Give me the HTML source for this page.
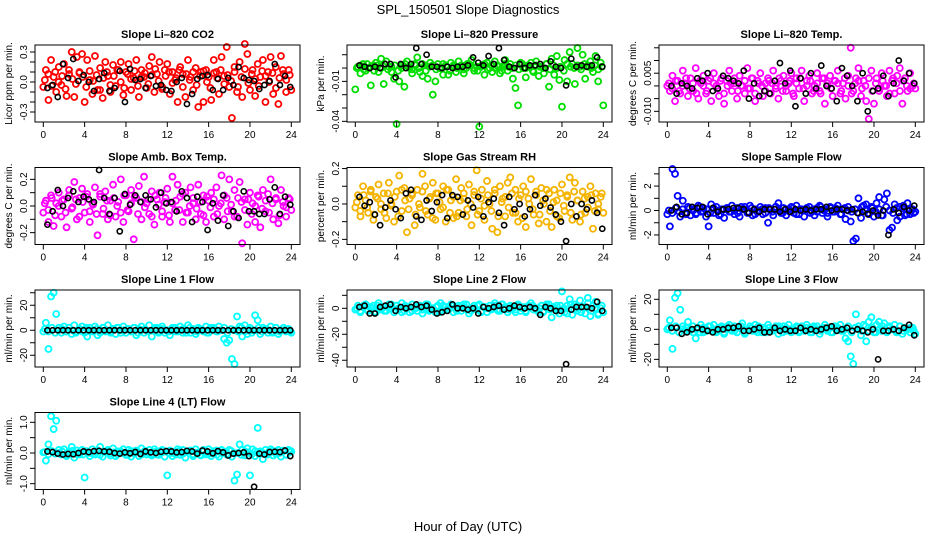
<!DOCTYPE html>
<html><head><meta charset="utf-8"><style>
body{margin:0;background:#fff}
svg{display:block;font-family:"Liberation Sans",sans-serif}
</style></head><body>
<svg id="chart" width="936" height="540" viewBox="0 0 936 540">
<text x="468" y="14" text-anchor="middle" font-size="13">SPL_150501  Slope Diagnostics</text>
<text x="468" y="531" text-anchor="middle" font-size="13">Hour of Day (UTC)</text>
</svg>
<script>
const xTicks=[0,4,8,12,16,20,24];
const co2Color=[-0.05,0.12,-0.18,0.22,0.05,-0.1,0.15,-0.03,0.18,-0.14,0.08,0.3,-0.15,0.25,0.1,0.28,-0.2,0.22,0.02,-0.12,0.26,-0.08,0.14,-0.16,0.2,0.06,-0.1,0.17,-0.04,0.12,0.2,-0.13,0.1,0.18,-0.08,0.04,0.22,-0.15,0.12,0.05,-0.06,0.16,0.25,-0.1,0.08,0.2,-0.05,0.12,0.18,-0.12,0.1,0.02,-0.2,0.15,0.08,-0.15,0.22,0.05,-0.08,0.14,-0.25,0.1,-0.2,0.12,0.05,-0.18,0.22,0.1,-0.12,0.25,0.06,0.35,-0.05,-0.36,0.15,-0.1,0.2,-0.15,0.38,0.28,-0.08,0.12,-0.14,0.18,0.05,0.22,-0.2,0.1,0.25,-0.12,0.15,-0.22,0.26,0.08,-0.1,0.12,-0.08];
const co2Core=[0.02,0.08,-0.04,0.1,0.0,0.06,-0.07,0.12,0.03,-0.02,0.09,0.05,-0.05,0.11,0.01,0.07,-0.08,0.04,0.1,-0.03,0.06,0.12,0.0,-0.06,0.08,0.03,0.11,-0.04,0.05,0.09,-0.02,0.07,0.13,0.01,-0.07,0.06,0.1,-0.01,0.04,0.12,-0.05,0.08,0.02,0.1,-0.03,0.06,0.11,0.0,-0.06,0.09,0.04,0.12,-0.02,0.07,0.01,0.1,-0.05,0.05,0.13,-0.01,0.08,0.03,-0.04,0.11,0.06,0.0,0.09,-0.06,0.04,0.12,0.02,0.07];
const co2Black=[-0.06,-0.03,-0.15,0.18,0.04,0.23,0.01,0.07,0.0,-0.09,0.03,0.09,-0.09,-0.06,0.11,-0.2,0.13,0.02,0.03,-0.06,0.06,-0.04,-0.03,-0.08,-0.09,0.0,0.04,-0.22,-0.12,0.03,0.06,0.07,-0.08,0.03,-0.08,0.04,-0.03,0.15,0.04,0.02,0.01,-0.07,-0.03,0.01,0.18,-0.03,0.06,-0.05];
const presColor=[-0.016,0.001,-0.004,0.003,-0.002,0.0,-0.013,0.002,0.004,-0.003,0.007,-0.012,0.005,0.001,-0.003,-0.008,-0.042,-0.01,0.002,-0.014,0.005,0.0,-0.004,0.003,0.008,-0.003,-0.006,0.002,-0.008,0.004,-0.02,-0.01,0.003,0.0,-0.005,0.002,-0.005,0.004,0.001,-0.003,0.005,0.002,-0.004,0.0,0.003,0.006,-0.002,0.001,-0.044,0.002,-0.005,0.004,0.0,-0.003,0.005,0.002,-0.004,0.001,0.006,-0.002,0.003,-0.008,-0.015,-0.028,0.004,0.0,-0.007,0.002,0.004,-0.003,0.005,-0.006,0.001,-0.004,0.003,-0.014,0.007,-0.005,0.009,-0.009,-0.029,0.006,-0.01,0.012,0.003,-0.012,0.015,0.001,0.01,-0.008,0.002,0.005,-0.003,0.009,-0.01,0.004,-0.028];
const presCore=[0.0,0.002,-0.001,0.003,0.001,-0.002,0.002,0.0,0.003,-0.001,0.001,0.002,-0.002,0.0,0.003,0.001,-0.001,0.002,0.0,0.003,-0.002,0.001,0.002,-0.001,0.0,0.003,0.001,-0.002,0.002,0.0,0.001,-0.001,0.003,0.002,0.0,-0.002,0.001,0.003,-0.001,0.002,0.0,0.001,-0.002,0.003,0.001,0.0,0.002,-0.001,0.003,0.0,0.001,-0.002,0.002,0.001,0.0,0.003,-0.001,0.002,0.0,0.001,-0.002,0.003,0.001,0.0,0.002,-0.001,0.003,0.001,0.0,0.002,-0.001,0.001];
const presBlack=[0.002,0.001,0.0,0.001,0.0,0.003,0.003,-0.007,0.003,0.0,0.003,0.015,0.003,0.01,0.001,0.001,0.0,0.001,0.0,0.001,0.001,0.002,0.008,0.004,0.002,0.009,0.003,0.015,0.006,0.001,0.0,0.003,0.0,0.002,0.002,0.003,0.0,0.005,0.001,0.0,-0.013,0.007,0.001,0.002,0.001,0.002,0.008,0.001];
const tempColor=[0.0,-0.002,0.004,-0.006,0.002,-0.003,0.006,0.001,-0.004,0.003,-0.002,0.007,-0.005,0.001,0.004,-0.003,0.002,-0.006,0.005,0.0,-0.004,0.003,-0.007,0.002,0.006,-0.002,0.001,-0.005,0.004,0.0,-0.003,0.007,-0.001,0.003,-0.006,0.002,0.005,-0.004,0.001,0.003,-0.003,0.006,0.0,-0.005,0.002,0.004,-0.002,0.001,0.005,-0.004,0.003,-0.001,0.006,-0.006,0.002,0.004,-0.003,0.0,0.005,-0.002,0.003,-0.007,0.001,0.004,-0.004,0.002,0.006,-0.003,0.001,-0.005,0.004,0.015,-0.002,0.003,0.007,-0.004,0.002,-0.006,-0.013,0.006,-0.007,0.003,-0.002,0.005,0.0,-0.004,0.006,0.002,-0.003,0.004,0.007,-0.007,0.003,-0.002,0.005,0.0,-0.001];
const tempCore=[0.001,-0.001,0.002,-0.002,0.0,0.003,-0.001,0.001,-0.003,0.002,0.0,-0.002,0.003,0.001,-0.001,0.002,-0.003,0.0,0.001,0.003,-0.002,0.0,0.002,-0.001,0.003,-0.003,0.001,0.0,-0.002,0.002,0.001,-0.001,0.003,-0.002,0.0,0.002,-0.003,0.001,0.003,-0.001,0.0,0.002,-0.002,0.001,-0.003,0.003,0.0,-0.001,0.002,0.001,-0.002,0.003,0.0,-0.003,0.001,0.002,-0.001,0.0,0.003,-0.002,0.001,-0.001,0.002,0.0,-0.003,0.003,0.001,-0.002,0.002,0.0,-0.001,0.001];
const tempBlack=[0.0,-0.003,0.001,0.0,-0.001,0.003,0.002,0.005,-0.002,-0.001,0.004,0.003,0.002,0.001,0.006,-0.005,0.001,-0.004,-0.002,-0.003,0.002,0.009,0.001,0.006,-0.008,0.003,-0.003,0.005,-0.001,0.008,0.0,-0.001,-0.006,0.007,0.004,0.0,-0.006,0.005,-0.010,-0.002,-0.001,0.004,-0.004,0.001,0.01,0.002,0.005,0.001];
const ambColor=[-0.05,0.04,-0.12,0.08,-0.15,0.02,0.1,-0.08,0.05,-0.16,0.12,-0.02,0.18,-0.1,0.06,0.13,-0.05,0.09,-0.12,0.02,0.14,-0.22,0.07,-0.06,0.11,-0.1,0.04,0.16,-0.08,0.03,0.2,-0.12,0.08,-0.04,0.12,-0.25,0.06,0.15,-0.1,0.22,0.02,-0.06,0.11,-0.14,0.05,0.1,-0.08,0.03,0.13,-0.12,0.22,-0.03,0.16,0.07,-0.12,0.1,-0.05,0.14,0.02,-0.1,0.16,-0.06,0.08,-0.12,0.04,0.1,-0.08,0.14,0.0,0.23,-0.1,0.06,0.2,-0.04,0.12,-0.08,0.18,-0.28,0.05,-0.14,0.1,0.02,-0.12,0.08,-0.16,0.12,-0.04,0.09,0.2,-0.1,0.05,-0.13,0.12,0.0,-0.08,0.06,-0.03];
const ambCore=[0.02,-0.03,0.06,-0.07,0.0,0.04,-0.05,0.08,-0.01,0.05,-0.08,0.03,0.07,-0.04,0.01,-0.06,0.09,-0.02,0.04,-0.07,0.06,0.0,-0.05,0.08,-0.03,0.02,0.07,-0.06,0.03,-0.01,0.05,-0.08,0.08,0.01,-0.04,0.06,-0.07,0.02,0.04,-0.03,0.09,-0.05,0.0,0.06,-0.02,0.03,-0.07,0.07,-0.01,0.05,-0.06,0.02,0.08,-0.04,0.01,-0.08,0.06,0.03,-0.03,0.05,-0.06,0.0,0.07,-0.02,0.04,-0.05,0.02,0.06,-0.07,0.03,-0.01,0.05];
const ambBlack=[-0.14,-0.04,0.12,0.0,0.06,0.11,0.03,0.07,0.05,0.03,0.27,0.06,-0.06,0.06,-0.19,0.09,0.01,0.08,0.03,0.08,0.05,-0.01,0.1,0.02,0.03,-0.04,0.11,0.06,-0.12,0.07,0.03,-0.18,0.02,-0.11,0.08,-0.15,-0.04,-0.09,0.11,-0.04,-0.04,-0.06,-0.06,0.05,0.14,-0.06,0.07,0.01];
const rhColor=[-0.02,0.05,-0.07,0.1,0.02,-0.05,0.08,-0.09,0.04,0.11,-0.03,0.06,-0.08,0.12,0.0,-0.1,0.07,0.16,-0.04,0.09,-0.16,0.03,0.06,-0.12,0.08,-0.02,0.17,0.1,-0.06,0.04,0.12,-0.09,0.06,-0.03,0.1,-0.1,0.08,0.02,-0.08,0.14,-0.05,0.09,0.03,-0.07,0.11,-0.12,0.05,0.19,-0.04,0.08,-0.09,0.13,0.0,-0.14,0.06,-0.16,0.1,0.03,-0.07,0.12,0.15,-0.05,0.08,-0.1,0.05,0.1,-0.13,0.03,0.14,-0.06,0.07,-0.11,0.09,0.0,-0.1,0.06,-0.13,0.08,0.02,-0.08,0.11,-0.04,0.05,0.15,-0.09,0.12,0.02,-0.1,0.07,-0.05,0.04,0.1,-0.14,0.06,-0.03,0.04,-0.05];
const rhCore=[0.01,-0.04,0.05,-0.02,0.07,-0.06,0.03,0.0,-0.05,0.06,-0.01,0.04,-0.07,0.08,0.02,-0.03,0.05,-0.06,0.0,0.07,-0.04,0.03,-0.08,0.06,0.01,-0.02,0.08,-0.05,0.04,-0.07,0.02,0.06,-0.03,0.0,0.07,-0.06,0.03,-0.01,0.05,-0.04,0.08,-0.07,0.01,0.04,-0.02,0.06,-0.05,0.03,-0.08,0.07,0.0,-0.03,0.05,-0.06,0.02,0.08,-0.04,0.01,-0.07,0.06,-0.01,0.04,-0.05,0.07,0.02,-0.06,0.03,-0.02,0.05,-0.04,0.0,0.06];
const rhBlack=[0.04,-0.01,0.01,-0.06,-0.12,-0.02,0.02,-0.03,-0.08,0.06,0.08,-0.07,-0.09,0.02,-0.04,0.01,0.05,-0.08,0.05,0.04,-0.06,0.02,-0.02,0.04,-0.07,0.01,0.03,-0.05,-0.12,0.04,-0.03,0.0,-0.07,-0.03,0.05,-0.01,0.03,-0.02,-0.06,-0.1,-0.21,0.0,-0.07,0.0,-0.03,0.02,-0.05,-0.14];
const sfColor=[-0.3,-1.3,3.4,3.0,1.2,-0.5,0.8,-0.2,0.3,-0.4,0.1,-0.3,0.4,-0.1,0.2,-0.5,-1.3,0.5,-0.2,0.3,-0.4,0.1,-0.6,0.2,-0.1,0.4,-0.3,0.2,-0.5,0.1,0.3,-0.2,0.4,-0.4,0.1,-0.1,0.3,-0.3,0.2,-1.0,0.1,-0.4,0.3,0.6,-0.2,0.2,-0.4,0.1,0.3,-0.2,0.4,-0.3,0.1,-0.5,0.2,0.3,-0.1,-0.4,0.2,0.4,-0.2,0.1,-0.5,0.3,-0.1,0.2,0.4,-0.3,0.1,-0.7,0.3,-0.9,-2.5,-2.3,1.0,-0.6,0.4,0.5,-0.2,0.3,-0.5,0.6,1.1,-0.4,0.9,1.4,-1.6,-1.4,0.5,-0.8,0.3,0.2,-0.4,0.6,-0.3,0.1,-0.1];
const sfCore=[0.0,-0.2,0.2,-0.1,0.1,-0.3,0.2,0.0,-0.2,0.3,-0.1,0.1,-0.2,0.2,0.0,-0.3,0.1,0.2,-0.1,0.0,-0.2,0.3,0.1,-0.1,0.2,-0.3,0.0,0.1,-0.2,0.2,-0.1,0.3,0.0,-0.2,0.1,-0.1,0.2,-0.3,0.1,0.0,0.2,-0.2,0.1,-0.1,0.3,0.0,-0.2,0.2,-0.1,0.1,-0.3,0.2,0.0,-0.1,0.1,-0.2,0.3,0.0,-0.3,0.2,-0.1,0.1,-0.4,0.3,0.0,-0.2,0.2,-0.5,0.4,-0.3,0.1,-0.2];
const sfBlack=[0.0,0.3,-0.3,-0.2,0.3,0.2,0.3,-0.3,0.2,-0.1,0.1,0.1,0.2,0.2,0.1,-0.2,0.1,-0.1,0.1,0.1,0.1,-0.1,0.1,-0.1,0.1,0.0,0.1,0.0,0.1,0.1,0.3,0.0,0.1,0.1,0.0,0.1,-0.2,-0.1,-0.3,0.0,-0.4,0.0,-2.0,0.1,-0.2,0.3,0.0,0.4];
const l1Color=[-1,6,-15,27,30,13,2,-2,3,-1,2,-3,4,-1,1,3,-2,-5,2,-1,3,-4,0,2,-1,4,-2,1,-3,2,0,3,-2,1,-1,2,-4,1,3,-2,0,4,-5,1,2,-1,3,-2,0,-4,1,2,-1,3,-2,0,4,-2,1,-3,2,0,-1,3,-2,1,2,-1,3,0,-7,-10,-8,-23,-27,11,3,-5,4,-3,2,0,12,8,-3,2,1,-2,3,-1,2,-3,0,2,-1,1,-2];
const l1Core=[1,-1,2,-2,0,1,-1,2,0,-2,1,-1,2,0,-1,1,-2,2,0,-1,1,2,-2,0,1,-1,2,-2,0,1,-1,0,2,-2,1,0,-1,2,-1,0,1,-2,2,0,-1,1,0,-2,2,1,-1,0,2,-2,1,0,-1,2,-1,1,-2,0,2,-1,1,0,-2,2,-1,0,1,-1];
const l1Black=[0,0,0,0,0,0,0,0,0,0,0,0,0,0,0,0,0,0,0,0,0,0,0,0,0,0,0,0,0,0,0,0,0,0,0,0,0,0,0,0,0,0,0,0,0,0,0,0];
const l2Color=[-1,2,-3,1,3,-2,0,2,-3,4,-1,1,-2,3,0,-3,2,-1,4,-2,1,-3,3,0,-2,2,-4,1,3,-1,0,-3,2,4,-2,1,-1,3,-3,0,2,-2,1,3,-4,0,2,-1,3,-2,1,-3,2,0,4,-1,-2,3,1,-3,2,0,-1,3,-2,1,-3,2,4,-1,0,-3,2,-2,1,3,-7,0,2,-4,13,-3,2,7,-5,3,-2,6,1,-4,8,-6,2,5,-5,0,-3];
const l2Core=[0,-2,2,-1,1,-3,2,0,-2,1,3,-1,0,-3,2,1,-2,0,2,-1,3,-2,0,1,-3,2,-1,0,2,-2,1,3,-1,-2,0,2,-3,1,0,-1,2,-2,3,0,-1,1,-3,2,0,-2,1,2,-1,0,-3,3,-1,1,-2,2,0,-4,3,-1,2,-3,1,4,-2,0,-4,2];
const l2Black=[1,2,-4,-4,1,2,3,-2,1,0,1,3,1,2,-1,-4,-3,-2,3,0,0,-1,0,-4,1,0,1,2,-1,0,2,1,0,1,0,-5,1,0,-2,-2,-43,-1,1,1,1,0,5,-2];
const l3Color=[0,6,-13,21,24,13,2,-1,5,0,-2,-6,1,3,-2,0,2,-1,3,-2,1,2,-3,0,3,-1,2,-2,1,4,-3,0,2,-1,3,-2,0,1,-2,3,-1,0,2,-3,1,2,-1,3,-2,0,1,-2,2,-1,3,0,-2,1,2,-3,0,3,-1,1,-2,2,0,3,-1,-6,-8,-18,-23,10,2,-4,3,-8,5,8,-2,3,5,-1,4,-2,2,0,3,-1,2,-3,1,0,-2,1,-3];
const l3Core=[1,-1,2,-2,0,1,-1,2,0,-2,1,-1,2,0,-1,1,-2,2,0,-1,1,2,-2,0,1,-1,2,-2,0,1,-1,0,2,-2,1,0,-1,2,-1,0,1,-2,2,0,-1,1,0,-2,2,1,-1,0,2,-2,1,0,-1,2,-1,1,-2,0,2,-1,1,0,-2,2,-1,0,1,-1];
const l3Black=[1,1,-3,-2,0,1,0,-1,-2,0,0,1,1,2,-1,-1,0,1,-2,-2,1,-1,0,-1,-1,1,-1,0,-1,0,1,2,-1,0,1,-1,0,-1,-2,0,-20,-1,-1,0,-1,1,3,-4];
const l4Color=[0.02,-0.25,0.28,1.2,0.78,1.05,0.1,-0.05,0.12,-0.1,0.05,0.2,-0.15,0.08,-0.05,0.1,-0.8,0.05,-0.1,0.12,-0.05,0.08,0.2,-0.12,0.05,0.1,-0.08,0.15,-0.1,0.05,0.0,0.12,-0.06,0.1,-0.12,0.05,0.08,-0.1,0.15,0.0,-0.05,0.1,-0.08,0.12,-0.05,0.05,0.1,-0.12,-0.73,0.08,-0.1,0.05,0.12,-0.06,0.1,-0.15,0.05,0.08,-0.1,0.12,0.0,-0.08,0.1,-0.05,0.12,-0.1,0.05,0.08,-0.12,0.1,0.0,-0.05,0.1,-0.12,-0.9,-0.7,0.28,0.1,-0.08,0.15,-0.73,0.12,-0.1,0.82,0.05,-0.2,0.1,-0.05,0.12,-0.08,0.05,0.1,-0.12,0.08,-0.05,0.1,0.05];
const l4Core=[0.03,-0.04,0.06,-0.02,0.0,0.05,-0.06,0.02,0.07,-0.03,0.01,-0.05,0.06,0.0,-0.02,0.04,-0.06,0.03,0.07,-0.01,0.02,-0.04,0.05,0.0,-0.06,0.06,-0.02,0.03,-0.05,0.07,0.01,-0.03,0.04,-0.06,0.02,0.05,-0.01,0.0,-0.05,0.06,-0.03,0.03,0.07,-0.04,0.01,-0.06,0.05,0.0,-0.02,0.06,-0.05,0.02,0.04,-0.03,0.07,-0.01,0.0,-0.06,0.05,0.02,-0.04,0.06,-0.02,0.01,-0.05,0.04,0.07,-0.03,0.0,0.05,-0.06,0.03];
const l4Black=[0.05,0.03,-0.02,-0.05,-0.03,-0.04,0.0,0.05,0.03,0.06,0.07,0.05,0.04,0.0,-0.02,0.02,-0.01,0.03,-0.03,0.05,0.02,0.0,0.04,0.06,0.05,0.02,0.03,0.07,0.05,-0.02,0.08,0.05,-0.01,0.06,0.02,-0.08,-0.02,0.0,0.02,-0.1,-1.1,-0.02,-0.05,0.03,0.04,0.03,0.08,-0.1];

const panels=[
 {title:"Slope Li\u2013820 CO2",yl:"Licor ppm per min.",c:0,r:0,top:0.37,bot:-0.40,ticks:[-0.3,-0.2,-0.1,0,0.1,0.2,0.3],labs:["-0.3","0.0","0.3"],labv:[-0.3,0,0.3],col:"#ff0000",cd:co2Color,kd:co2Core,bd:co2Black},
 {title:"Slope Li\u2013820 Pressure",yl:"kPa per min.",c:1,r:0,top:0.0173,bot:-0.0405,ticks:[-0.04,-0.03,-0.02,-0.01,0,0.01],labs:["-0.04","-0.01"],labv:[-0.04,-0.01],col:"#00dd00",cd:presColor,kd:presCore,bd:presBlack},
 {title:"Slope Li\u2013820 Temp.",yl:"degrees C per min.",c:2,r:0,top:0.0161,bot:-0.0142,ticks:[-0.01,-0.005,0,0.005,0.01,0.015],labs:["-0.010","0.005"],labv:[-0.01,0.005],col:"#ff00ff",cd:tempColor,kd:tempCore,bd:tempBlack},
 {title:"Slope Amb. Box Temp.",yl:"degrees C per min.",c:0,r:1,top:0.289,bot:-0.289,ticks:[-0.2,-0.1,0,0.1,0.2],labs:["-0.2","0.0","0.2"],labv:[-0.2,0,0.2],col:"#ff00ff",cd:ambColor,kd:ambCore,bd:ambBlack},
 {title:"Slope Gas Stream RH",yl:"percent per min.",c:1,r:1,top:0.206,bot:-0.229,ticks:[-0.2,-0.1,0,0.1,0.2],labs:["-0.2","0.0","0.2"],labv:[-0.2,0,0.2],col:"#f5b400",cd:rhColor,kd:rhCore,bd:rhBlack},
 {title:"Slope Sample Flow",yl:"ml/min per min.",c:2,r:1,top:3.52,bot:-2.78,ticks:[-2,-1,0,1,2,3],labs:["-2","0","2"],labv:[-2,0,2],col:"#0000ff",cd:sfColor,kd:sfCore,bd:sfBlack},
 {title:"Slope Line 1 Flow",yl:"ml/min per min.",c:0,r:2,top:32.2,bot:-29.4,ticks:[-20,-10,0,10,20,30],labs:["-20","0","20"],labv:[-20,0,20],col:"#00ffff",cd:l1Color,kd:l1Core,bd:l1Black},
 {title:"Slope Line 2 Flow",yl:"ml/min per min.",c:1,r:2,top:14.1,bot:-45.2,ticks:[-40,-30,-20,-10,0,10],labs:["-40","-20","0"],labv:[-40,-20,0],col:"#00ffff",cd:l2Color,kd:l2Core,bd:l2Black},
 {title:"Slope Line 3 Flow",yl:"ml/min per min.",c:2,r:2,top:26.2,bot:-25.1,ticks:[-20,-10,0,10,20],labs:["-20","0","20"],labv:[-20,0,20],col:"#00ffff",cd:l3Color,kd:l3Core,bd:l3Black},
 {title:"Slope Line 4 (LT) Flow",yl:"ml/min per min.",c:0,r:3,top:1.32,bot:-1.19,ticks:[-1,-0.5,0,0.5,1],labs:["-1.0","0.0","1.0"],labv:[-1,0,1],col:"#00ffff",cd:l4Color,kd:l4Core,bd:l4Black}
];
const NS="http://www.w3.org/2000/svg";
const svg=document.getElementById('chart');
function mk(tag,attrs,parent){const e=document.createElementNS(NS,tag);for(const k in attrs)e.setAttribute(k,attrs[k]);parent.appendChild(e);return e;}
const rowTop=[45,167.5,290,412.5];
panels.forEach((p,pi)=>{
 const L=35+312*p.c, R=L+265, T=rowTop[p.r], B=T+77;
 const x0=L+8.3, x1=L+256.3;
 const sx=h=>x0+(x1-x0)*h/24;
 const sy=v=>T+(p.top-v)/(p.top-p.bot)*(B-T);
 const g=mk('g',{},svg);
 
 
 const t=mk('text',{x:(L+R)/2,y:T-7,'text-anchor':'middle','font-size':11,'font-weight':'bold'},g);
 t.textContent=p.title;
 
 
 const yt=mk('text',{transform:`translate(${L-23},${(T+B)/2}) rotate(-90)`,'text-anchor':'middle','font-size':10},g);
 yt.textContent=p.yl;
 
 
 const ptsG=mk('g',{fill:'none','stroke-width':1.8},g);
 
 
 p.kd.forEach((v,i)=>{
  const c=mk('circle',{cx:sx(0.15+i*23.7/(p.kd.length-1)),cy:sy(v),r:3,stroke:p.col},ptsG);
  
  
 });
 p.cd.forEach((v,i)=>{
  const c=mk('circle',{cx:sx(i*24/(p.cd.length-1)),cy:sy(v),r:3,stroke:p.col},ptsG);
  
  
 });
 p.bd.forEach((v,i)=>{
  const c=mk('circle',{cx:sx((i+1)*0.5-0.1),cy:sy(v),r:2.6,stroke:'#000','stroke-width':1.6},ptsG);
  
  
 });
 const box=mk('rect',{x:L,y:T,width:R-L,height:B-T,fill:'none',stroke:'#000','stroke-width':1},g);
 
 
 p.ticks.forEach(v=>{
  const tk=mk('line',{x1:L-5,x2:L,y1:sy(v),y2:sy(v),stroke:'#000'},g);
  
  
 });
 p.labs.forEach((s,i)=>{
  const tl=mk('text',{transform:`translate(${L-8},${sy(p.labv[i])}) rotate(-90)`,'text-anchor':'middle','font-size':10},g);
  tl.textContent=s;
  
  
 });
 xTicks.forEach(h=>{
  const tk=mk('line',{x1:sx(h),x2:sx(h),y1:B,y2:B+5,stroke:'#000'},g);
  
  
  const tl=mk('text',{x:sx(h),y:B+16,'text-anchor':'middle','font-size':10},g);
  tl.textContent=h;
  
  
 });
});
</script>
</body></html>
